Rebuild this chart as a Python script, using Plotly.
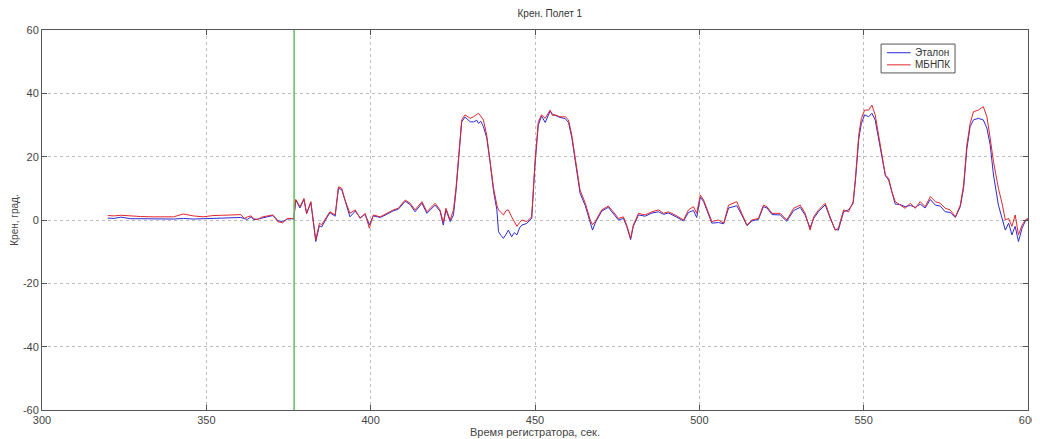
import plotly.graph_objects as go

time_s = [320.0, 322.0, 324.0, 327.0, 330.0, 334.0, 337.0, 340.0, 343.0, 346.0, 349.0, 352.0, 355.0, 358.0,
          360.5, 361.6, 362.5, 363.6, 364.5, 365.6, 366.8, 368.7, 370.2, 371.0, 371.7, 373.2, 374.7, 375.9,
          376.6, 377.2, 378.5, 379.7, 380.5, 381.8, 382.6, 383.3, 384.4, 385.1, 386.6, 387.6, 389.2, 390.2,
          391.2, 392.2, 393.7, 395.3, 396.8, 398.3, 399.6, 400.8, 402.9, 404.9, 406.9, 408.4, 410.5, 412.0,
          413.5, 415.6, 417.1, 419.6, 421.1, 422.1, 422.9, 424.2, 425.2, 426.0, 426.7, 427.7, 428.7, 429.5,
          430.3, 431.3, 432.3, 432.8, 433.5, 434.3, 435.3, 436.3, 437.4, 438.4, 438.9, 439.6, 440.4, 441.2,
          441.9, 442.9, 443.7, 444.5, 445.3, 446.0, 447.5, 449.0, 450.0, 451.0, 452.0, 453.1, 454.6, 455.3,
          456.1, 457.6, 459.2, 460.2, 461.2, 462.7, 463.7, 465.3, 466.8, 467.5, 468.3, 470.3, 472.3, 473.8,
          475.4, 476.9, 477.9, 479.1, 479.9, 481.5, 483.5, 485.6, 487.6, 489.1, 490.6, 492.6, 495.2, 496.7,
          498.2, 499.2, 500.3, 501.3, 502.8, 503.8, 505.8, 507.4, 508.9, 510.4, 511.4, 512.9, 514.5, 516.0,
          518.0, 519.5, 520.6, 522.1, 524.6, 526.6, 528.7, 530.7, 532.2, 533.7, 534.8, 536.3, 538.3, 539.8,
          541.3, 542.3, 543.9, 545.4, 546.8, 547.5, 548.5, 549.3, 550.3, 551.5, 552.5, 553.5, 554.5, 555.5,
          556.6, 557.6, 558.6, 559.6, 561.1, 562.6, 564.2, 565.7, 567.2, 568.7, 570.3, 571.8, 573.3, 574.8,
          576.3, 577.9, 579.4, 580.4, 581.4, 582.4, 583.4, 584.9, 586.4, 587.5, 588.5, 589.5, 591.0, 592.1,
          593.1, 594.1, 595.1, 596.1, 597.1, 598.2, 599.2, 600.0]

mbnpk = [1.4, 1.3, 1.5, 1.2, 1.1, 1.0, 1.1, 1.0, 1.9, 1.3, 1.0, 1.4, 1.5, 1.6,
         1.7, 0.5, 1.0, 1.3, 0.4, 0.1, 0.9, 1.3, 1.6, 0.5, -0.5, -0.9, 0.5, 0.5,
         0.2, 6.5, 4.2, 6.8, 2.1, 5.8, -1.0, -6.3, -1.0, -1.5, 1.0, 2.6, 1.6, 10.5,
         10.0, 6.3, 2.1, 3.2, 0.5, 2.1, -2.6, 1.6, 1.0, 2.1, 3.2, 3.7, 6.3, 5.3,
         3.2, 5.8, 2.6, 5.3, 3.2, -0.8, 3.7, 0.0, 3.2, 10.5, 20.0, 31.6, 33.2, 32.5,
         32.1, 32.6, 33.5, 33.7, 32.8, 31.6, 26.8, 19.5, 10.0, 4.7, 3.2, 2.4, 1.6, 3.0,
         3.2, 1.0, -0.5, -2.0, -0.8, 0.0, -0.5, 1.0, 18.4, 31.0, 33.2, 32.1, 34.7, 33.0,
         33.2, 32.6, 32.6, 31.6, 26.8, 16.3, 9.5, 5.3, 0.0, -1.5, -0.5, 3.2, 4.4, 2.6,
         0.5, 1.0, -1.6, -5.8, -1.6, 2.1, 1.6, 2.6, 3.2, 2.1, 2.6, 1.6, 0.0, 3.2,
         4.2, 2.1, 7.9, 6.3, 2.1, -0.5, 0.0, -1.0, 4.7, 5.3, 5.8, 2.1, -1.6, 0.0,
         0.5, 4.7, 4.2, 2.1, 2.1, 0.0, 3.7, 4.7, 2.1, -3.2, 1.0, 3.2, 5.3, 1.0,
         -3.2, -2.6, 3.2, 2.6, 5.8, 13.2, 26.8, 32.1, 34.7, 34.7, 36.3, 33.2, 26.8, 20.0,
         14.2, 13.2, 8.9, 5.8, 4.7, 3.7, 5.3, 3.7, 5.8, 4.2, 7.4, 5.8, 5.3, 3.7,
         3.2, 1.0, 4.7, 11.0, 23.7, 30.5, 34.2, 34.7, 35.8, 32.6, 25.8, 18.4, 10.0, 5.3,
         0.0, 0.5, -2.0, 1.6, -4.7, -1.6, 0.0, 0.5]

etalon = [0.6, 0.5, 0.9, 0.4, 0.4, 0.3, 0.4, 0.3, 0.5, 0.3, 0.4, 0.5, 0.5, 0.6,
          0.8, 0.4, 0.2, 1.0, 0.1, 0.3, 0.6, 1.1, 1.4, 0.8, -0.2, -0.5, 0.3, 0.4,
          0.3, 6.3, 3.8, 6.5, 2.0, 5.5, -0.7, -6.8, -1.8, -2.2, 0.6, 2.3, 1.2, 10.0,
          9.6, 5.8, 1.0, 2.8, 0.7, 1.8, -1.5, 1.3, 0.8, 1.8, 2.9, 3.4, 5.9, 4.9,
          2.6, 5.3, 2.1, 4.7, 2.8, -1.6, 3.2, -0.5, 1.6, 9.5, 19.0, 31.0, 32.5, 31.8,
          31.0, 31.0, 31.5, 30.5, 31.2, 29.5, 26.0, 18.5, 9.0, 3.2, -3.7, -4.8, -5.8, -4.5,
          -3.2, -5.3, -4.0, -4.7, -2.5, -1.6, -1.1, 0.6, 17.5, 30.0, 32.8, 30.8, 34.4, 33.4,
          33.0, 32.4, 32.0, 30.8, 26.0, 15.5, 8.5, 4.5, -0.8, -3.2, -1.0, 2.8, 4.0, 2.0,
          0.0, 0.5, -2.0, -6.2, -2.0, 1.6, 1.2, 2.2, 2.6, 1.8, 2.2, 1.2, -0.3, 2.4,
          3.0, 0.8, 7.2, 5.8, 1.5, -1.0, -0.8, -1.2, 3.8, 4.2, 4.5, 1.6, -1.8, -0.3,
          0.2, 4.2, 3.8, 1.7, 1.6, -0.4, 3.0, 4.0, 1.5, -2.5, 0.5, 2.7, 4.8, 0.6,
          -3.0, -3.2, 2.6, 3.2, 5.2, 12.5, 25.5, 30.5, 33.2, 32.6, 33.7, 31.6, 26.0, 19.5,
          14.0, 12.6, 8.4, 5.0, 4.9, 4.2, 4.6, 4.0, 5.0, 3.8, 6.5, 4.7, 4.4, 2.6,
          2.4, 0.8, 4.2, 10.0, 22.5, 29.5, 31.6, 32.1, 31.6, 29.0, 23.7, 14.2, 4.7, 0.5,
          -3.2, -1.0, -4.7, -2.0, -6.8, -2.6, -0.3, 0.2]

series_names = ["Эталон", "МБНПК"]
series_colors = ["#2b2bd6", "#e3262b"]
marker_time = 376.7
x_ticks = [300, 350, 400, 450, 500, 550, 600]
y_ticks = [-60, -40, -20, 0, 20, 40, 60]

FONT = "Liberation Sans, Arial, sans-serif"

# the page body has an 8px default margin, so the figure is sized to fit the 1040x439 window
FIG_W, FIG_H = 1032, 431

fig = go.Figure()
for vals, nm, col in zip([etalon, mbnpk], series_names, series_colors):
    fig.add_trace(go.Scatter(x=time_s, y=vals, mode="lines", name=nm,
                             line=dict(color=col, width=1), showlegend=False))

fig.add_shape(type="line", xref="x", yref="paper", x0=marker_time, x1=marker_time, y0=0, y1=1,
              line=dict(color="#5cc05c", width=1.5))

# compact MATLAB-style legend box (paper coordinates inside plot area)
lx0, lx1, ly0, ly1 = 0.851, 0.926, 0.887, 0.963
fig.add_shape(type="rect", xref="paper", yref="paper", x0=lx0, x1=lx1, y0=ly0, y1=ly1,
              line=dict(color="#555555", width=1), fillcolor="white", layer="above")
for i, (nm, col) in enumerate(zip(series_names, series_colors)):
    yy = ly1 - (ly1 - ly0) * (0.3 + 0.42 * i)
    fig.add_shape(type="line", xref="paper", yref="paper", x0=lx0 + 0.006, x1=lx0 + 0.030,
                  y0=yy, y1=yy, line=dict(color=col, width=1), layer="above")
    fig.add_annotation(xref="paper", yref="paper", x=lx0 + 0.032, y=yy, text=nm,
                       showarrow=False, xanchor="left", yanchor="middle",
                       font=dict(family=FONT, size=10, color="#333333"))

axis_common = dict(showline=True, linecolor="#555555", linewidth=1, mirror="ticks",
                   ticks="inside", ticklen=5, tickcolor="#555555", automargin=False,
                   showgrid=True, gridcolor="#bdbdbd", griddash="dot", gridwidth=1,
                   zeroline=False, tickfont=dict(family=FONT, size=11, color="#444444"))

fig.update_layout(
    width=FIG_W, height=FIG_H,
    paper_bgcolor="white", plot_bgcolor="white",
    margin=dict(l=34, r=12, t=22, b=29, autoexpand=False),
    title=dict(text="Крен. Полет 1", x=0.515, xanchor="center", xref="paper",
               yref="container", y=1 - 5 / FIG_H, yanchor="middle",
               font=dict(family=FONT, size=10, color="#333333")),
    xaxis=dict(range=[300, 600], tickvals=x_ticks, ticktext=[str(v) for v in x_ticks],
               title=dict(text="Время регистратора, сек.", standoff=0,
                          font=dict(family=FONT, size=11, color="#444444")),
               **axis_common),
    yaxis=dict(range=[-60, 60], tickvals=y_ticks, ticktext=[str(v) for v in y_ticks],
               title=dict(text="Крен, град.", standoff=2,
                          font=dict(family=FONT, size=10, color="#444444")),
               **axis_common),
    showlegend=False,
)

fig.write_html("out.html")
